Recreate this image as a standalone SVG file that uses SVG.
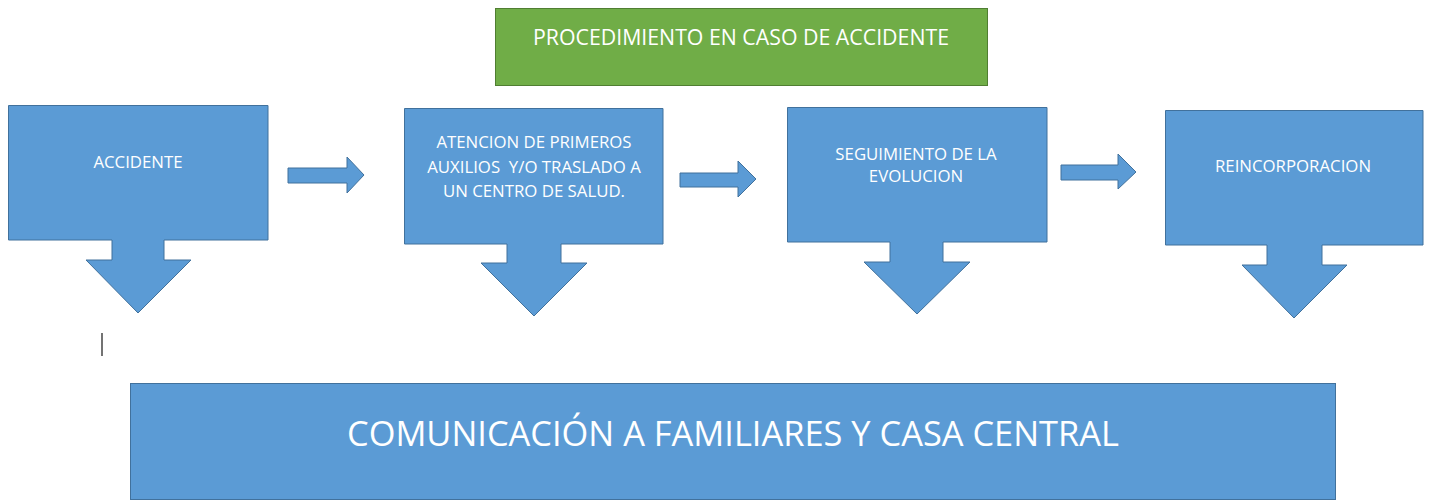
<svg xmlns="http://www.w3.org/2000/svg" width="1435" height="501" viewBox="0 0 1435 501">
<style>
.blue{fill:#5b9bd5;stroke:#41719c;stroke-width:1}
.green{fill:#70ad47;stroke:#507e32;stroke-width:1}
.t{font-family:"Open Sans","Liberation Sans",sans-serif;fill:#ffffff;text-anchor:middle}
.s{font-size:16.8px}
</style>
<rect width="1435" height="501" fill="#ffffff"/>
<g id="title">
<rect class="green" x="495.5" y="8.5" width="492" height="77"/>
<text class="t" x="741" y="45" style="font-size:21.3px">PROCEDIMIENTO EN CASO DE ACCIDENTE</text>
</g>
<g id="connectors">
<path class="blue" d="M288,168 H347 V157 L364,175 L347,193 V183 H288 Z"/>
<path class="blue" d="M680,173 H738 V161 L756,179 L738,197 V187 H680 Z"/>
<path class="blue" d="M1061,165 H1118 V154 L1136,172 L1118,189 V180 H1061 Z"/>
</g>
<g id="node-accidente">
<path class="blue" d="M8.5,105.5 H268 V240 H164 V260 H191 L138,313 L86,260 H112 V240 H8.5 Z"/>
<text class="t s" x="138" y="168">ACCIDENTE</text>
</g>
<g id="node-atencion">
<path class="blue" d="M404.5,108.5 H663 V244 H561 V263 H587 L534,316 L481,263 H507 V244 H404.5 Z"/>
<text class="t s" x="534" y="148">ATENCION DE PRIMEROS</text>
<text class="t s" x="534" y="172.5" xml:space="preserve">AUXILIOS  Y/O TRASLADO A</text>
<text class="t s" x="534" y="197">UN CENTRO DE SALUD.</text>
</g>
<g id="node-seguimiento">
<path class="blue" d="M787.5,107.5 H1047 V242 H943 V262 H970 L917,314 L864,262 H890 V242 H787.5 Z"/>
<text class="t s" x="916" y="160">SEGUIMIENTO DE LA</text>
<text class="t s" x="916" y="182">EVOLUCION</text>
</g>
<g id="node-reincorporacion">
<path class="blue" d="M1165.5,110.5 H1423 V245 H1322 V265 H1347 L1294,318 L1242,265 H1267 V245 H1165.5 Z"/>
<text class="t s" x="1293" y="172">REINCORPORACION</text>
</g>
<g id="cursor">
<line x1="102" y1="333" x2="102" y2="356" stroke="#444444" stroke-width="1.5"/>
</g>
<g id="node-comunicacion">
<rect class="blue" x="130.5" y="383.5" width="1205" height="116"/>
<text class="t" x="733" y="446" style="font-size:34.4px">COMUNICACIÓN A FAMILIARES Y CASA CENTRAL</text>
</g>
</svg>
